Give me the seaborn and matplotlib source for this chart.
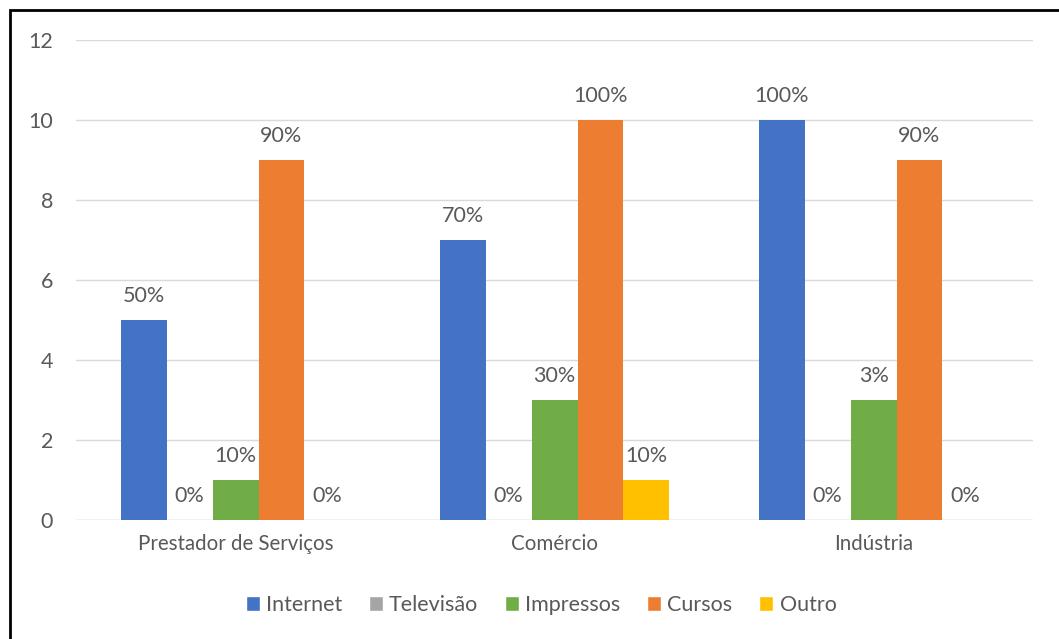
import matplotlib
matplotlib.use("Agg")
import matplotlib.pyplot as plt
import seaborn as sns
import pandas as pd
from matplotlib.patches import Rectangle, Patch

categories = ["Prestador de Serviços", "Comércio", "Indústria"]
series = ["Internet", "Televisão", "Impressos", "Cursos", "Outro"]
internet = [5, 7, 10]
televisao = [0, 0, 0]
impressos = [1, 3, 3]
cursos = [9, 10, 9]
outro = [0, 1, 0]
lbl_internet = ["50%", "70%", "100%"]
lbl_televisao = ["0%", "0%", "0%"]
lbl_impressos = ["10%", "30%", "3%"]
lbl_cursos = ["90%", "100%", "90%"]
lbl_outro = ["0%", "10%", "0%"]
colors = ["#4472C4", "#A5A5A5", "#70AD47", "#ED7D31", "#FFC000"]
yticks = [0, 2, 4, 6, 8, 10, 12]

vals = [internet, televisao, impressos, cursos, outro]
lbls = [lbl_internet, lbl_televisao, lbl_impressos, lbl_cursos, lbl_outro]
rows = []
for s, v, l in zip(series, vals, lbls):
    for c, vv, ll in zip(categories, v, l):
        rows.append({"cat": c, "serie": s, "val": vv, "lbl": ll})
df = pd.DataFrame(rows)

sns.set_theme(style="white")
plt.rcParams["font.family"] = ["Lato", "DejaVu Sans"]
txt = "#595959"

fig = plt.figure(figsize=(10.59, 6.39), dpi=100)
ax = fig.add_axes([0.0718, 0.1862, 0.9037, 0.7512])
sns.barplot(data=df, x="cat", y="val", hue="serie", order=categories,
            hue_order=series, palette=colors, width=0.72, gap=0,
            saturation=1, ax=ax, legend=False, errorbar=None, linewidth=0)

for cont, l in zip(ax.containers, lbls):
    for bar, t in zip(cont, l):
        x = bar.get_x() + bar.get_width() / 2
        y = bar.get_height()
        ax.annotate(t, (x, y), xytext=(0, 17.5), textcoords="offset points",
                    ha="center", va="center", fontsize=15.5, color=txt)

ax.set_xlim(-0.5, 2.5)
ax.set_ylim(0, 12)
ax.set_yticks(yticks)
ax.yaxis.grid(True, color="#D9D9D9", lw=1)
ax.set_axisbelow(True)
for sp in ax.spines.values():
    sp.set_visible(False)
ax.axhline(0, color="#D9D9D9", lw=1, zorder=0.5)
ax.set_xlabel("")
ax.set_ylabel("")
ax.tick_params(axis="both", length=0, labelcolor=txt)
ax.tick_params(axis="y", pad=16.5, labelsize=15.5)
ax.tick_params(axis="x", pad=10, labelsize=14.8)

handles = [Patch(facecolor=c, label=s) for c, s in zip(colors, series)]
leg = fig.legend(handles=handles, loc="center", bbox_to_anchor=(0.511, 0.053),
                 ncol=5, frameon=False, fontsize=15.5, handlelength=0.65,
                 handleheight=0.65, handletextpad=0.28, columnspacing=1.25)
for t in leg.get_texts():
    t.set_color(txt)

fig.patches.append(Rectangle((10 / 1059, -0.05), 1.1, 1 - 10 / 639 + 0.05,
                             transform=fig.transFigure, fill=False,
                             edgecolor="black", lw=2, zorder=10))

fig.savefig("out.png", dpi=100, facecolor="white")
